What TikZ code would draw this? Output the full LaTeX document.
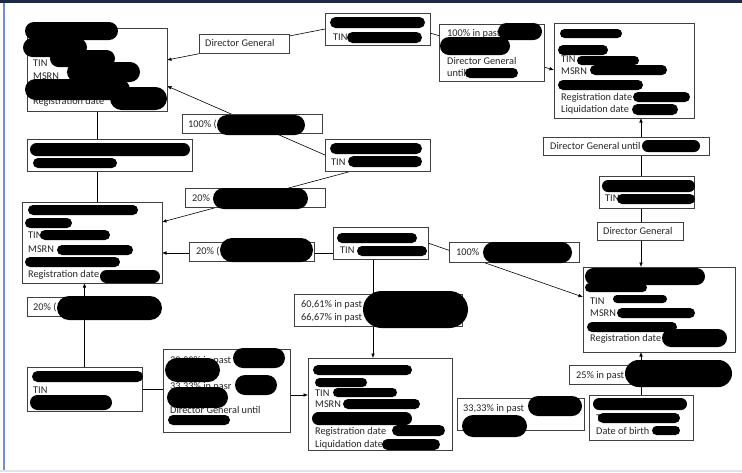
\documentclass[tikz,border=0pt]{standalone}
\usepackage{fontspec}
\setmainfont{Carlito}
\usetikzlibrary{arrows.meta,backgrounds}
\pgfdeclarelayer{bottom}
\pgfsetlayers{bottom,background,main}
\definecolor{topnavy}{HTML}{1F2A44}
\definecolor{leftblue}{HTML}{7090D0}
\definecolor{botgray}{HTML}{E2E2EC}
\tikzset{
  box/.style={draw=black!75,line width=0.8pt,fill=white,inner sep=0pt,outer sep=0pt},
  txt/.style={anchor=base west,inner sep=0pt,text=black!85,font=\fontsize{10.3}{13}\selectfont},
  conn/.style={draw=black,line width=0.6pt},
  arr/.style={conn,-{Latex[length=4.5pt,width=3.6pt]}}
}
\newcommand{\bx}[5]{\node[box,minimum width={#4-#2},minimum height={#5-#3}] (#1) at ({(#2+#4)/2},{(#3+#5)/2}) {};}
\newcommand{\tx}[4]{\node[txt] (#1) at (#2,{#3+3.5}) {#4};}
\newcommand{\blb}[4]{\pgfmathsetmacro\blbr{min(abs(#4-#2),abs(#3-#1))/2}\fill[black,rounded corners=\blbr pt] (#1,#2) rectangle (#3,#4);}
\begin{document}
\begin{tikzpicture}[x=1pt,y=-1pt]
\useasboundingbox (0,0) rectangle (742,472);
\begin{pgfonlayer}{bottom}
\fill[white] (0,0) rectangle (742,472);
\fill[topnavy] (0,0) rectangle (742,2.5);
\fill[leftblue] (3,2.5) rectangle (5,472);
\fill[botgray] (0,470) rectangle (742,472);
\end{pgfonlayer}
% boxes
\bx{A}{27}{28}{167}{111}
\bx{B}{325}{13}{430}{45}
\bx{C}{27}{139}{192}{171}
\bx{D}{325}{139}{430}{171}
\bx{E}{22}{202}{162}{283}
\bx{F}{333}{227}{428}{259}
\bx{G}{27}{367}{142}{411}
\bx{H}{308}{358}{452}{450}
\bx{I}{583}{267}{735}{352}
\bx{J}{599}{176}{694}{208}
\bx{K}{554}{23}{694}{118}
\bx{L}{589}{395}{693}{440}
% label boxes
\bx{l1}{199}{34}{289}{53}
\bx{l2}{182}{114}{322}{133}
\bx{l3}{185}{188}{325}{207}
\bx{l4}{189}{242}{314}{261}
\bx{l5}{27}{297}{153}{316}
\bx{l6}{163}{349}{290}{432}
\bx{l7}{294}{294}{462}{326}
\bx{l8}{449}{242}{579}{262}
\bx{l9}{439}{24}{544}{81}
\bx{l10}{543}{137}{709}{155}
\bx{l11}{597}{222}{683}{240}
\bx{l12}{569}{365}{724}{384}
\bx{l13}{457}{398}{584}{430}
% connectors
\begin{pgfonlayer}{background}
\draw[arr] (B.west) -- (A.east |- 0,60);
\draw[arr] (D.west) -- (A.east |- 0,86);
\draw[arr] (D.south -| 352,0) -- (E.east |- 0,222);
\draw[arr] (F.west |- 0,253) -- (E.east |- 0,253);
\draw[arr] (F.east) -- (I.west |- 0,297);
\draw[arr] (F.south -| 373,0) -- (H.north -| 373,0);
\draw[arr] (G.north) -- (E.south -| G.north);
\draw[conn] (G.east) -- (l6.west |- G.east);
\draw[arr] (l6.east |- 0,395) -- (H.west |- 0,395);
\draw[conn] (A.south) -- (C.north -| A.south);
\draw[conn] (C.south -| A.south) -- (E.north -| A.south);
\draw[arr] (J.north -| 641,0) -- (K.south -| 641,0);
\draw[arr] (J.south -| 641,0) -- (I.north -| 641,0);
\draw[arr] (L.north) -- (I.south -| L.north);
\draw[arr] (B.east |- 0,33) -- (K.west |- 0,70);
\end{pgfonlayer}
% texts
\tx{tA1}{33}{63}{TIN}
\tx{tA2}{33}{76}{MSRN}
\tx{tA3}{33}{101}{Registration date}
\tx{tB1}{333}{37}{TIN}
\tx{tD1}{331}{162}{TIN}
\tx{tE1}{28}{235}{TIN}
\tx{tE2}{28}{249}{MSRN}
\tx{tE3}{28}{274}{Registration date}
\tx{tF1}{340}{250}{TIN}
\tx{tG1}{33}{390}{TIN}
\tx{tH1}{315}{393}{TIN}
\tx{tH2}{315}{404}{MSRN}
\tx{tH3}{315}{431}{Registration date}
\tx{tH4}{315}{444}{Liquidation date}
\tx{tI1}{590}{301}{TIN}
\tx{tI2}{590}{313}{MSRN}
\tx{tI3}{590}{338}{Registration date}
\tx{tJ1}{605}{198}{TIN}
\tx{tK1}{561}{59}{TIN}
\tx{tK2}{561}{71}{MSRN}
\tx{tK3}{561}{97}{Registration date}
\tx{tK4}{561}{109}{Liquidation date}
\tx{tL1}{596}{418}{TIN}
\tx{tL2}{596}{431}{Date of birth}
\tx{t1}{205}{43}{Director General}
\tx{t2}{188}{124}{100\% (}
\tx{t3}{192}{198}{20\%}
\tx{t4}{196}{251}{20\% (}
\tx{t5}{33}{307}{20\% (}
\tx{t6a}{170}{360}{30,30\% in past}
\tx{t6b}{170}{386}{33,33\% in pasr}
\tx{t6c}{170}{410}{Director General until}
\tx{t7a}{301}{304}{60,61\% in past}
\tx{t7b}{301}{317}{66,67\% in past}
\tx{t8}{456}{252}{100\%}
\tx{t9a}{447}{33}{100\% in past}
\tx{t9b}{447}{61}{Director General}
\tx{t9c}{447}{73}{until}
\tx{t10}{550}{146}{Director General until}
\tx{t11}{603}{231}{Director General}
\tx{t12}{576}{375}{25\% in past}
\tx{t13}{463}{408}{33,33\% in past}
% redaction blobs
\blb{25}{22}{118}{40}\blb{23}{38}{87}{57}\blb{50}{50}{115}{67}\blb{67}{62}{140}{82}\blb{25}{79}{130}{100}\blb{110}{87}{167}{110}
\blb{330}{17}{425}{28}\blb{347}{32}{422}{43}
\blb{217}{115}{305}{135}
\blb{30}{143}{190}{156}\blb{33}{158}{117}{168}
\blb{330}{143}{422}{154}\blb{348}{156}{422}{167}
\blb{213}{188}{308}{209}
\blb{28}{205}{138}{215}\blb{25}{218}{72}{228}\blb{40}{230}{110}{240}\blb{57}{245}{133}{255}\blb{25}{257}{120}{267}\blb{100}{270}{160}{283}
\blb{220}{238}{313}{262}
\blb{337}{233}{417}{243}\blb{357}{246}{427}{256}
\blb{57}{296}{162}{320}
\blb{32}{371}{143}{382}\blb{30}{395}{112}{410}
\blb{233}{348}{285}{368}\blb{165}{358}{220}{382}\blb{235}{375}{277}{395}\blb{167}{387}{228}{408}\blb{168}{415}{230}{425}
\blb{363}{291}{468}{328}
\blb{313}{365}{412}{375}\blb{315}{378}{367}{387}\blb{333}{388}{397}{397}\blb{343}{399}{420}{409}\blb{312}{412}{412}{425}\blb{392}{425}{445}{436}\blb{382}{439}{440}{450}
\blb{483}{242}{572}{263}
\blb{498}{23}{542}{40}\blb{440}{37}{510}{55}\blb{465}{68}{518}{78}
\blb{560}{29}{622}{38}\blb{558}{45}{608}{55}\blb{577}{56}{639}{65}\blb{590}{65}{667}{75}\blb{558}{80}{643}{90}\blb{633}{92}{690}{102}\blb{632}{104}{678}{115}
\blb{642}{140}{700}{152}
\blb{602}{180}{695}{192}\blb{617}{194}{695}{204}
\blb{585}{268}{705}{285}\blb{585}{283}{647}{292}\blb{613}{295}{667}{303}\blb{617}{308}{695}{318}\blb{587}{322}{677}{332}\blb{662}{329}{727}{347}
\blb{625}{360}{732}{387}
\blb{593}{398}{687}{410}\blb{598}{413}{680}{423}\blb{652}{426}{680}{435}
\blb{528}{396}{582}{416}\blb{462}{415}{527}{437}
\end{tikzpicture}
\end{document}
